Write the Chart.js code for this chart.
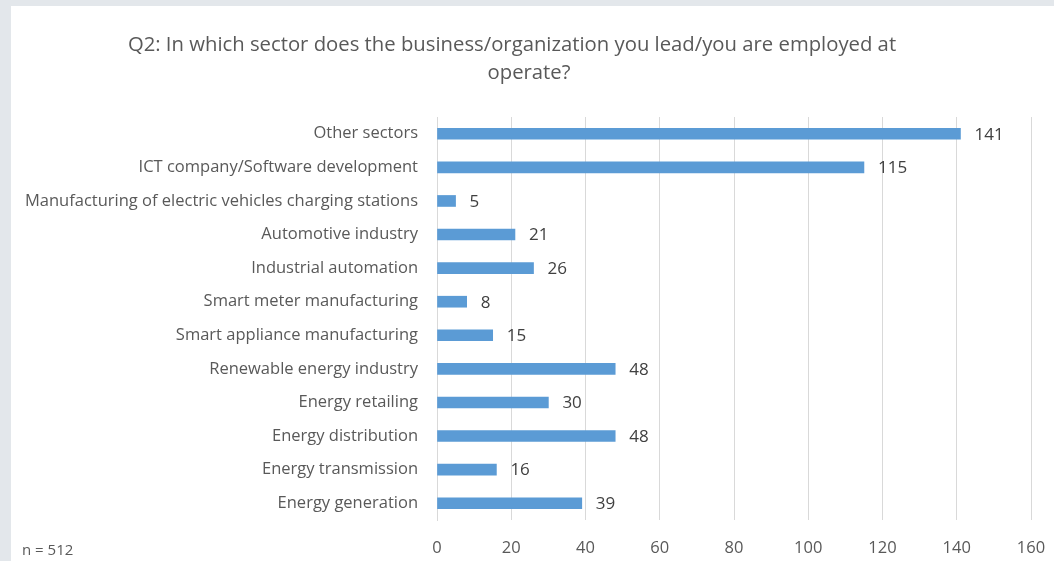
<!DOCTYPE html>
<html>
<head>
<meta charset="utf-8">
<script src="https://cdn.jsdelivr.net/npm/chart.js@4.4.1/dist/chart.umd.min.js"></script>
<style>
html,body{margin:0;padding:0;overflow:hidden;background:#e3e7eb;}
#wrap{position:absolute;left:0;top:0;width:1054px;height:561px;}
</style>
</head>
<body>
<div id="wrap"><canvas id="c" width="1054" height="561"></canvas></div>
<script>
const categories = [
  "Other sectors",
  "ICT company/Software development",
  "Manufacturing of electric vehicles charging stations",
  "Automotive industry",
  "Industrial automation",
  "Smart meter manufacturing",
  "Smart appliance manufacturing",
  "Renewable energy industry",
  "Energy retailing",
  "Energy distribution",
  "Energy transmission",
  "Energy generation"
];
const values = [141, 115, 5, 21, 26, 8, 15, 48, 30, 48, 16, 39];
const titleLines = ["Q2: In which sector does the business/organization you lead/you are employed at", "operate?"];
const note = "n = 512";
const xMin = 0, xMax = 160, xStep = 20;

const FONT = "'Open Sans', 'DejaVu Sans', sans-serif";

const bgPlugin = {
  id: 'bg',
  beforeDraw(chart) {
    const ctx = chart.ctx;
    ctx.save();
    ctx.fillStyle = '#e3e7eb';
    ctx.fillRect(0, 0, chart.width, chart.height);
    ctx.fillStyle = '#ffffff';
    ctx.fillRect(11, 6, chart.width - 11, chart.height - 6);
    ctx.restore();
  },
  afterDraw(chart) {
    const ctx = chart.ctx;
    ctx.save();
    ctx.fillStyle = '#595959';
    ctx.font = "20.3px " + FONT;
    ctx.textAlign = 'center';
    ctx.textBaseline = 'middle';
    ctx.fillText(titleLines[0], 512, 45);
    ctx.fillText(titleLines[1], 529, 73);
    ctx.font = "15px " + FONT;
    ctx.textAlign = 'left';
    ctx.fillText(note, 22, 551);
    // data labels
    ctx.fillStyle = '#404040';
    ctx.font = "17px " + FONT;
    const meta = chart.getDatasetMeta(0);
    meta.data.forEach((bar, i) => {
      ctx.fillText(String(values[i]), bar.x + 14, bar.y + 1);
    });
    ctx.restore();
  }
};

new Chart(document.getElementById('c'), {
  type: 'bar',
  data: {
    labels: categories,
    datasets: [{
      data: values,
      backgroundColor: '#5b9bd5',
      borderWidth: 0,
      barThickness: 11
    }]
  },
  options: {
    indexAxis: 'y',
    responsive: false,
    animation: false,
    devicePixelRatio: 1,
    layout: { padding: { top: 117, right: 23, bottom: 0, left: 0 } },
    plugins: {
      legend: { display: false },
      title: { display: false },
      tooltip: { enabled: false }
    },
    scales: {
      x: {
        min: xMin, max: xMax,
        ticks: { stepSize: xStep, color: '#595959', font: { family: FONT, size: 16.5 }, padding: 18 },
        grid: { color: '#d9d9d9', lineWidth: 1, drawTicks: false },
        border: { display: false },
        afterFit(scale) { scale.height = 41; scale.paddingRight = 0; scale.paddingLeft = 0; }
      },
      y: {
        ticks: { color: '#595959', font: { family: FONT, size: 16.5 }, padding: 19, autoSkip: false },
        grid: { display: false, drawTicks: false },
        border: { display: true, color: '#d9d9d9' },
        afterFit(scale) { scale.width = 437; scale.paddingTop = 0; scale.paddingBottom = 0; }
      }
    }
  },
  plugins: [bgPlugin]
});
</script>
</body>
</html>
